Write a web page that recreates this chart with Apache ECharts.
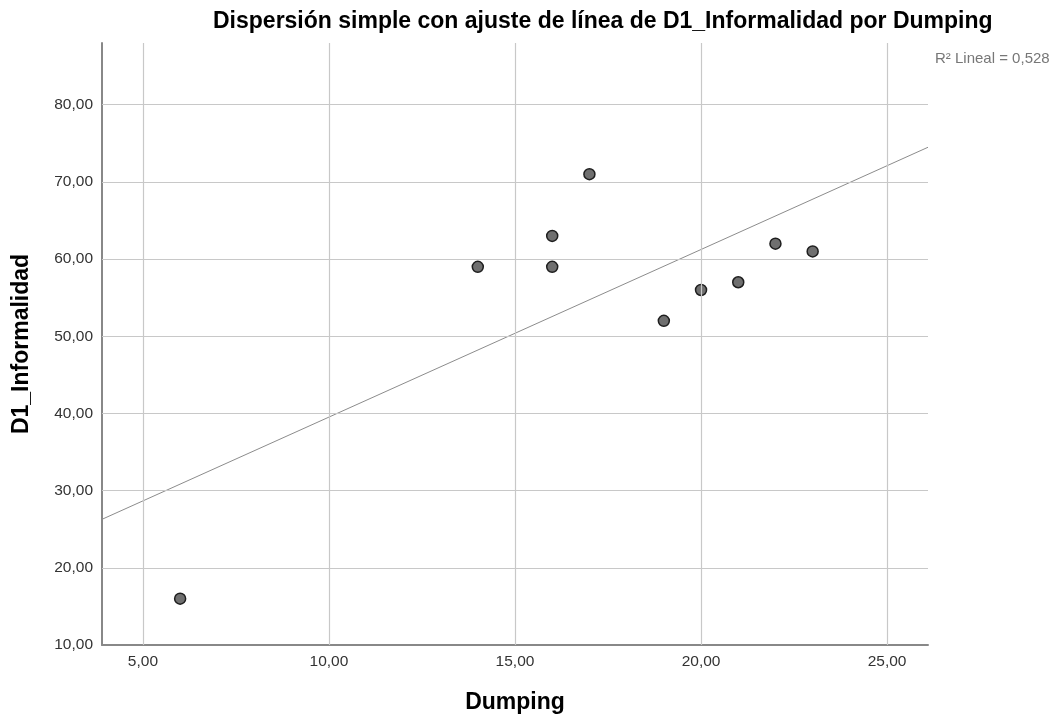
<!DOCTYPE html>
<html>
<head>
<meta charset="utf-8">
<script src="https://cdn.jsdelivr.net/npm/echarts@6/dist/echarts.min.js"></script>
<style>
  html, body { margin: 0; padding: 0; background: #fff; }
  #chart { width: 1056px; height: 719px; }
</style>
</head>
<body>
<div id="chart"></div>
<script>
// datos
var dumping = [6, 14, 16, 16, 17, 19, 20, 21, 22, 23];
var informalidad = [16, 59, 63, 59, 71, 52, 56, 57, 62, 61];
var xTicks = [5, 10, 15, 20, 25];
var yTicks = [10, 20, 30, 40, 50, 60, 70, 80];
var xMin = 3.9, xMax = 26.1;
var yMin = 10, yMax = 88;

// ajuste lineal (minimos cuadrados) sobre los puntos
function fit(xs, ys) {
    var n = xs.length, mx = 0, my = 0, sxy = 0, sxx = 0, syy = 0;
    for (var i = 0; i < n; i++) { mx += xs[i]; my += ys[i]; }
    mx /= n; my /= n;
    for (var j = 0; j < n; j++) {
        sxy += (xs[j] - mx) * (ys[j] - my);
        sxx += (xs[j] - mx) * (xs[j] - mx);
        syy += (ys[j] - my) * (ys[j] - my);
    }
    var b = sxy / sxx;
    return { b: b, a: my - b * mx, r2: sxy * sxy / (sxx * syy) };
}
var lr = fit(dumping, informalidad);
var lineData = [[xMin, lr.a + lr.b * xMin], [xMax, lr.a + lr.b * xMax]];

var points = dumping.map(function (x, i) { return [x, informalidad[i]]; });
var fmt = function (v) { return v.toFixed(2).replace('.', ','); };
var FONT = 'Liberation Sans, Arial, sans-serif';

var myChart = echarts.init(document.getElementById('chart'));
var option = {
    backgroundColor: '#fff',
    animation: false,
    textStyle: { fontFamily: FONT },
    title: {
        text: 'Dispersión simple con ajuste de línea de D1_Informalidad por Dumping',
        left: 213,
        top: 10,
        padding: 0,
        textStyle: { fontSize: 23, fontWeight: 'bold', color: '#000', fontFamily: FONT }
    },
    graphic: [{
        type: 'text',
        left: 935,
        top: 51,
        style: {
            text: 'R² Lineal = ' + lr.r2.toFixed(3).replace('.', ','),
            fill: '#777',
            font: '15px ' + FONT
        }
    }],
    grid: { left: 102, right: 128, top: 43, bottom: 73 },
    xAxis: {
        type: 'value',
        min: xMin, max: xMax,
        name: 'Dumping',
        nameLocation: 'middle',
        nameGap: 46,
        nameTextStyle: { fontSize: 23, fontWeight: 'bold', color: '#000' },
        axisLine: { show: true, lineStyle: { color: '#888', width: 2 } },
        axisTick: { show: false },
        axisLabel: {
            color: '#333', fontSize: 15.5, margin: 9,
            customValues: xTicks,
            formatter: fmt
        },
        splitLine: { show: false }
    },
    yAxis: {
        type: 'value',
        min: yMin, max: yMax,
        name: 'D1_Informalidad',
        nameLocation: 'middle',
        nameGap: 69,
        nameTextStyle: { fontSize: 23, fontWeight: 'bold', color: '#000' },
        axisLine: { show: true, lineStyle: { color: '#888', width: 2 } },
        axisTick: { show: false },
        axisLabel: {
            color: '#333', fontSize: 15.5, margin: 9,
            customValues: yTicks,
            formatter: fmt
        },
        splitLine: { show: false }
    },
    series: [
        {   // lineas de cuadricula
            type: 'line',
            silent: true,
            data: [],
            markLine: {
                silent: true, symbol: 'none', label: { show: false },
                lineStyle: { color: '#c8c8c8', type: 'solid', width: 1.2 },
                data: xTicks.map(function (v) { return { xAxis: v }; })
                    .concat(yTicks.slice(1).map(function (v) { return { yAxis: v }; }))
            }
        },
        {
            name: 'ajuste',
            type: 'line',
            data: lineData,
            showSymbol: false,
            lineStyle: { color: '#8c8c8c', width: 1 },
            z: 3
        },
        {
            name: 'datos',
            type: 'scatter',
            data: points,
            symbolSize: 11,
            itemStyle: { color: '#6f6f6f', borderColor: '#1e1e1e', borderWidth: 1.5, opacity: 1 },
            z: 4
        }
    ]
};
myChart.setOption(option, true);
</script>
</body>
</html>
